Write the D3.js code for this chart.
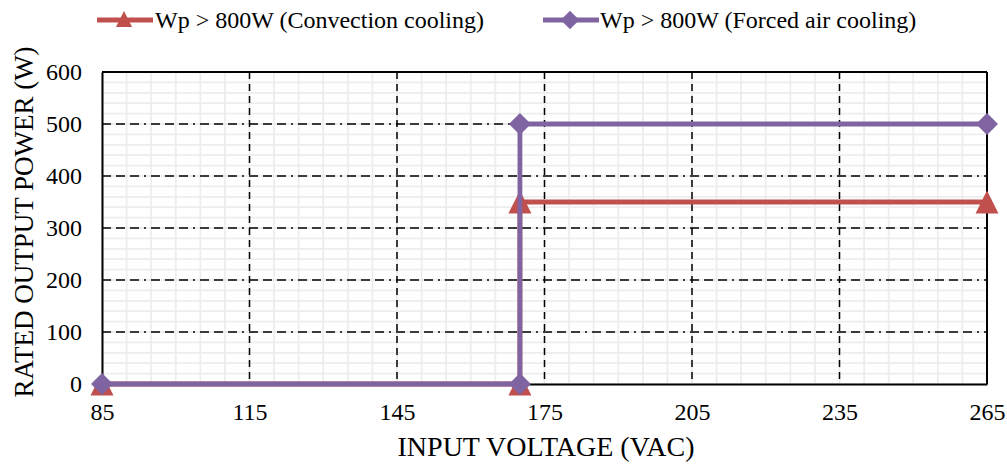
<!DOCTYPE html>
<html>
<head>
<meta charset="utf-8">
<script src="https://cdn.jsdelivr.net/npm/d3@7"></script>
<style>
    body { margin: 0; background: #fff; }
    svg text { font-family: "Liberation Serif", "Times New Roman", serif; fill: #000; }
</style>
</head>
<body>
<svg width="1007" height="465"></svg>
<script>
const seriesNames = ["Wp > 800W (Convection cooling)", "Wp > 800W (Forced air cooling)"];
const voltage = [85, 170, 170, 265];
const convection = [0, 0, 350, 350];
const forcedAir = [0, 0, 500, 500];
const xTicks = [85, 115, 145, 175, 205, 235, 265];
const yTicks = [0, 100, 200, 300, 400, 500, 600];

const attr = {
    left: 102,
    right: 987,
    top: 72,
    bottom: 384
};

const svg = d3.select("svg");

const scX = d3.scaleLinear().domain([85, 265]).range([attr.left, attr.right]);
const scY = d3.scaleLinear().domain([0, 600]).range([attr.bottom, attr.top]);

// minor grid
const minorX = d3.range(85, 266, 5);
const minorY = d3.range(0, 601, 20);

svg.append("g")
    .selectAll("line")
    .data(minorX)
    .enter()
    .append("line")
    .attr("x1", d => scX(d)).attr("x2", d => scX(d))
    .attr("y1", attr.top).attr("y2", attr.bottom)
    .attr("stroke", "#ededed").attr("stroke-width", 1.8);

svg.append("g")
    .selectAll("line")
    .data(minorY)
    .enter()
    .append("line")
    .attr("y1", d => scY(d)).attr("y2", d => scY(d))
    .attr("x1", attr.left).attr("x2", attr.right)
    .attr("stroke", "#ededed").attr("stroke-width", 1.8);

// major grid
svg.append("g")
    .selectAll("line")
    .data(xTicks.slice(1, -1))
    .enter()
    .append("line")
    .attr("x1", d => scX(d)).attr("x2", d => scX(d))
    .attr("y1", attr.top).attr("y2", attr.bottom)
    .attr("stroke", "#000").attr("stroke-width", 1.5)
    .attr("stroke-dasharray", "7,5");

svg.append("g")
    .selectAll("line")
    .data(yTicks.slice(1, -1))
    .enter()
    .append("line")
    .attr("y1", d => scY(d)).attr("y2", d => scY(d))
    .attr("x1", attr.left).attr("x2", attr.right)
    .attr("stroke", "#000").attr("stroke-width", 1.5)
    .attr("stroke-dasharray", "9,5,9,5,9,5,2,5");

// frame
svg.append("line")
    .attr("x1", attr.left).attr("x2", attr.right)
    .attr("y1", attr.top).attr("y2", attr.top)
    .attr("stroke", "#000").attr("stroke-width", 2);
svg.append("line")
    .attr("x1", attr.right).attr("x2", attr.right)
    .attr("y1", attr.top).attr("y2", attr.bottom)
    .attr("stroke", "#000").attr("stroke-width", 2);

// axes
const axX = svg.append("g")
    .attr("transform", `translate(0,${attr.bottom})`)
    .call(d3.axisBottom(scX).tickValues(xTicks).tickSize(0).tickPadding(19));
const axY = svg.append("g")
    .attr("transform", `translate(${attr.left},0)`)
    .call(d3.axisLeft(scY).tickValues(yTicks).tickSize(0).tickPadding(20));

[axX, axY].forEach(ax => {
    ax.select(".domain").attr("stroke", "#000").attr("stroke-width", 2);
    ax.selectAll("text").style("font-size", "24px");
});

svg.append("text")
    .attr("x", 546)
    .attr("y", 456)
    .attr("text-anchor", "middle")
    .style("font-size", "28px")
    .text("INPUT VOLTAGE (VAC)");

svg.append("text")
    .attr("transform", "translate(33,222) rotate(-90)")
    .attr("text-anchor", "middle")
    .style("font-size", "27px")
    .text("RATED OUTPUT POWER (W)");

// markers
const triangleType = {
    draw(ctx, size) {
        const h = Math.sqrt(size) / 2;
        ctx.moveTo(0, -h);
        ctx.lineTo(h, h);
        ctx.lineTo(-h, h);
        ctx.closePath();
    }
};
const triangle = d3.symbol().type(triangleType).size(530);
const diamond = d3.symbol().type(d3.symbolSquare).size(240);

const series = [
    { name: seriesNames[0], values: convection, color: "#C0504D", marker: triangle, rot: 0 },
    { name: seriesNames[1], values: forcedAir, color: "#8064A2", marker: diamond, rot: 45 }
];

const line = d3.line()
    .x(d => scX(d[0]))
    .y(d => scY(d[1]));

series.forEach(s => {
    const pts = voltage.map((v, i) => [v, s.values[i]]);
    svg.append("path")
        .datum(pts)
        .attr("fill", "none")
        .attr("stroke", s.color)
        .attr("stroke-width", 4.8)
        .attr("d", line);
    svg.selectAll(null)
        .data(pts)
        .enter()
        .append("path")
        .attr("d", s.marker)
        .attr("transform", d => `translate(${scX(d[0])},${scY(d[1])}) rotate(${s.rot})`)
        .attr("fill", s.color);
});

// legend
const legendPos = [{ x: 97, tx: 155 }, { x: 543, tx: 600 }];
series.forEach((s, i) => {
    const g = svg.append("g").attr("transform", `translate(${legendPos[i].x},20)`);
    g.append("line")
        .attr("x1", 0).attr("x2", 56)
        .attr("stroke", s.color).attr("stroke-width", 4.8);
    g.append("path")
        .attr("d", s.marker)
        .attr("transform", `translate(27,${i === 0 ? -1 : 0}) rotate(${s.rot}) scale(${i === 0 ? 0.7 : 0.85})`)
        .attr("fill", s.color);
    svg.append("text")
        .attr("x", legendPos[i].tx)
        .attr("y", 28)
        .style("font-size", "24px")
        .text(s.name);
});
</script>
</body>
</html>
